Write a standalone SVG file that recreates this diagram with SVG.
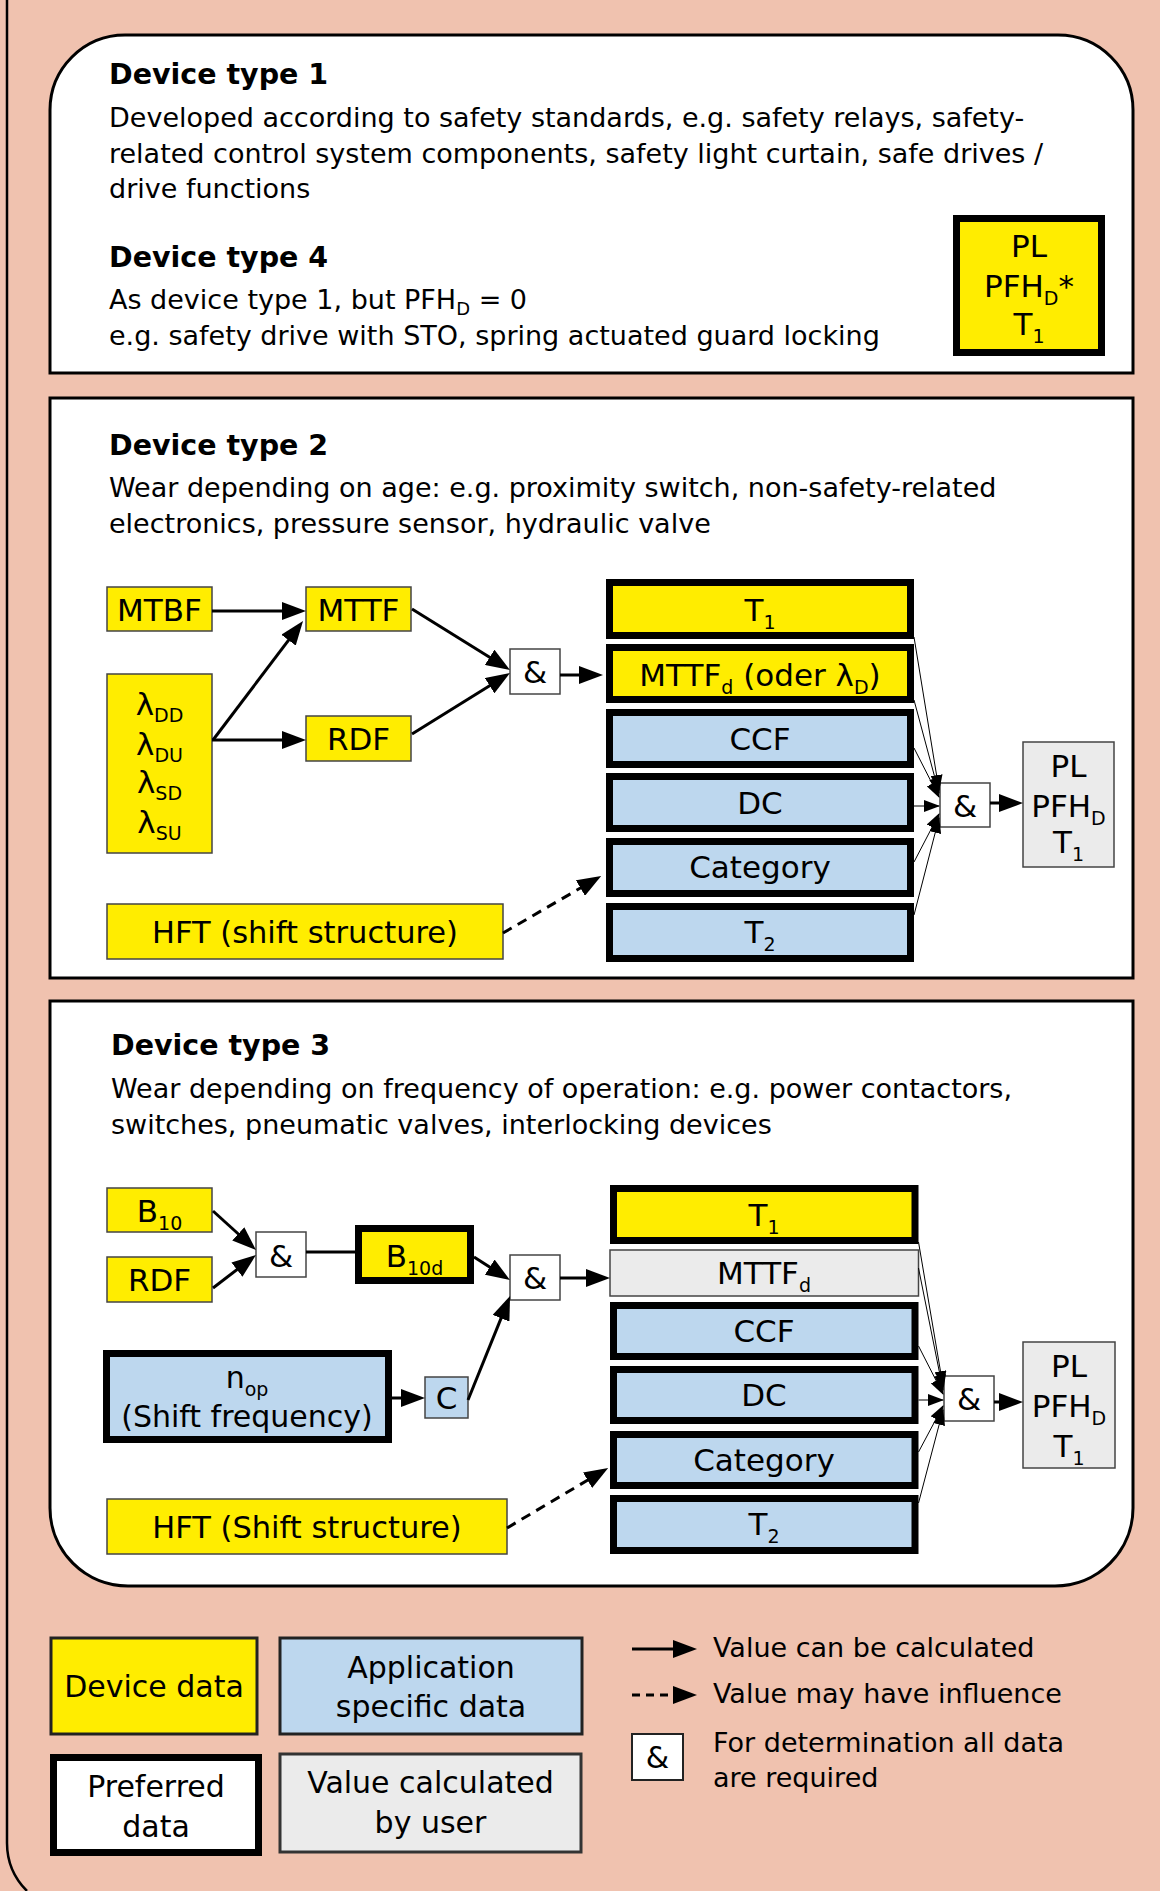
<svg xmlns="http://www.w3.org/2000/svg" width="1160" height="1891" viewBox="0 0 1160 1891">
<style>
text{font-family:"DejaVu Sans",sans-serif;fill:#000}
.h{font-size:28.5px;font-weight:bold}
.b{font-size:27px}
.l{font-size:31px;text-anchor:middle}
.m{font-size:30px;text-anchor:middle}
.panel{fill:#fff;stroke:#000;stroke-width:3}
.y{fill:#FFED00;stroke:#444;stroke-width:1.5}
.yt{fill:#FFED00;stroke:#000;stroke-width:7}
.bt{fill:#BDD7EE;stroke:#000;stroke-width:7}
.bl{fill:#BDD7EE;stroke:#444;stroke-width:1.5}
.g{fill:#EBEBEB;stroke:#444;stroke-width:1.5}
.w{fill:#fff;stroke:#444;stroke-width:1.5}
.c{stroke:#000;stroke-width:3;fill:none}
.a{marker-end:url(#ah)}
.d{stroke-dasharray:10 7}
.t{stroke:#000;stroke-width:1;fill:none;marker-end:url(#ahs)}
</style>
<defs>
<marker id="ah" markerUnits="userSpaceOnUse" markerWidth="24" markerHeight="18" viewBox="0 0 24 18" refX="18" refY="9" orient="auto"><path d="M0,0 L24,9 L0,18 z" fill="#000"/></marker>
<marker id="ahs" markerUnits="userSpaceOnUse" markerWidth="16" markerHeight="12" viewBox="0 0 16 12" refX="15" refY="6" orient="auto"><path d="M0,0 L16,6 L0,12 z" fill="#000"/></marker>
</defs>
<rect x="0" y="0" width="1160" height="1891" fill="#F0C2AF"/>
<path d="M7,0 V1843 A68,68 0 0 0 27,1891" fill="none" stroke="#000" stroke-width="2.5"/>

<g id="panel1">
<path class="panel" d="M50,373 V110 A75,75 0 0 1 125,35 H1058 A75,75 0 0 1 1133,110 V373 Z"/>
<text class="h" x="109" y="84">Device type 1</text>
<text class="b" x="109" y="127">Developed according to safety standards, e.g. safety relays, safety-</text>
<text class="b" x="109" y="163">related control system components, safety light curtain, safe drives /</text>
<text class="b" x="109" y="198">drive functions</text>
<text class="h" x="109" y="267">Device type 4</text>
<text class="b" x="109" y="309">As device type 1, but PFH<tspan dy="6" font-size="18">D</tspan><tspan dy="-6"> = 0</tspan></text>
<text class="b" x="109" y="345">e.g. safety drive with STO, spring actuated guard locking</text>
</g>
<g id="pl1">
<rect class="yt" x="956.5" y="218.5" width="145" height="134"/>
<text class="l" x="1029" y="257">PL</text>
<text class="l" x="1029" y="297">PFH<tspan dy="8" font-size="19">D</tspan><tspan dy="-8">*</tspan></text>
<text class="l" x="1029" y="335">T<tspan dy="8" font-size="19">1</tspan></text>
</g>

<g id="panel2">
<rect class="panel" x="50" y="398" width="1083" height="580"/>
<text class="h" x="109" y="455">Device type 2</text>
<text class="b" x="109" y="497">Wear depending on age: e.g. proximity switch, non-safety-related</text>
<text class="b" x="109" y="533">electronics, pressure sensor, hydraulic valve</text>
</g>
<g id="mtbf"><rect class="y" x="107" y="587" width="105" height="44"/><text class="l" x="159.5" y="621">MTBF</text></g>
<g id="mttf"><rect class="y" x="306" y="587" width="105" height="44"/><text class="l" x="358.5" y="621">MTTF</text></g>
<g id="lambda"><rect class="y" x="107" y="674" width="105" height="179"/>
<text class="l" x="159.5" y="715">λ<tspan dy="7" font-size="19">DD</tspan></text>
<text class="l" x="159.5" y="755">λ<tspan dy="7" font-size="19">DU</tspan></text>
<text class="l" x="159.5" y="793">λ<tspan dy="7" font-size="19">SD</tspan></text>
<text class="l" x="159.5" y="833">λ<tspan dy="7" font-size="19">SU</tspan></text></g>
<g id="rdf2"><rect class="y" x="306" y="716" width="105" height="45"/><text class="l" x="358.5" y="750">RDF</text></g>
<g id="and2a"><rect class="w" x="510" y="649" width="50" height="45"/><text class="l" x="535" y="683">&amp;</text></g>
<g id="hft2"><rect class="y" x="107" y="904" width="396" height="55"/><text class="m" x="305" y="943" style="font-size:30.5px">HFT (shift structure)</text></g>
<g id="t1b2"><rect class="yt" x="609.5" y="582.5" width="301" height="53"/><text class="l" x="760" y="621">T<tspan dy="8" font-size="19">1</tspan></text></g>
<g id="mttfd2"><rect class="yt" x="609.5" y="647.5" width="301" height="52"/><text class="l" x="760" y="686">MTTF<tspan dy="8" font-size="19">d</tspan><tspan dy="-8"> (oder λ</tspan><tspan dy="8" font-size="19">D</tspan><tspan dy="-8">)</tspan></text></g>
<g id="ccf2"><rect class="bt" x="609.5" y="712.5" width="301" height="52"/><text class="l" x="760" y="750">CCF</text></g>
<g id="dc2"><rect class="bt" x="609.5" y="776.5" width="301" height="52"/><text class="l" x="760" y="814">DC</text></g>
<g id="cat2"><rect class="bt" x="609.5" y="841.5" width="301" height="52"/><text class="l" x="760" y="878">Category</text></g>
<g id="t2b2"><rect class="bt" x="609.5" y="906.5" width="301" height="52"/><text class="l" x="760" y="943">T<tspan dy="8" font-size="19">2</tspan></text></g>
<g id="and2b"><rect class="w" x="940" y="783" width="50" height="44"/><text class="l" x="965" y="817">&amp;</text></g>
<g id="pl2"><rect class="g" x="1023" y="742" width="91" height="125"/>
<text class="l" x="1068.5" y="777">PL</text>
<text class="l" x="1068.5" y="817">PFH<tspan dy="8" font-size="19">D</tspan></text>
<text class="l" x="1068.5" y="853">T<tspan dy="8" font-size="19">1</tspan></text></g>

<g id="panel3">
<path class="panel" d="M50,1001 H1133 V1508 A78,78 0 0 1 1055,1586 H128 A78,78 0 0 1 50,1508 Z"/>
<text class="h" x="111" y="1055">Device type 3</text>
<text class="b" x="111" y="1098">Wear depending on frequency of operation: e.g. power contactors,</text>
<text class="b" x="111" y="1134">switches, pneumatic valves, interlocking devices</text>
</g>
<g id="b10"><rect class="y" x="107" y="1188" width="105" height="44"/><text class="l" x="159.5" y="1222">B<tspan dy="8" font-size="19">10</tspan></text></g>
<g id="rdf3"><rect class="y" x="107" y="1257" width="105" height="45"/><text class="l" x="159.5" y="1291">RDF</text></g>
<g id="and3a"><rect class="w" x="256" y="1232" width="50" height="45"/><text class="l" x="281" y="1267">&amp;</text></g>
<g id="b10d"><rect class="yt" x="358.5" y="1228.5" width="112" height="52"/><text class="l" x="414.5" y="1267">B<tspan dy="8" font-size="19">10d</tspan></text></g>
<g id="and3b"><rect class="w" x="510" y="1255" width="50" height="45"/><text class="l" x="535" y="1289">&amp;</text></g>
<g id="nop"><rect class="bt" x="106.5" y="1353.5" width="282" height="86"/>
<text class="m" x="247" y="1388">n<tspan dy="8" font-size="19">op</tspan></text>
<text class="m" x="247" y="1427">(Shift frequency)</text></g>
<g id="cbox"><rect class="bl" x="425" y="1377" width="43" height="41"/><text class="l" x="446.5" y="1409">C</text></g>
<g id="hft3"><rect class="y" x="107" y="1499" width="400" height="55"/><text class="m" x="307" y="1538" style="font-size:30.5px">HFT (Shift structure)</text></g>
<g id="t1b3"><rect class="yt" x="613.5" y="1188.5" width="301.5" height="52"/><text class="l" x="764" y="1226">T<tspan dy="8" font-size="19">1</tspan></text></g>
<g id="mttfd3"><rect class="g" x="610" y="1250" width="308.5" height="46"/><text class="l" x="764" y="1284">MTTF<tspan dy="8" font-size="19">d</tspan></text></g>
<g id="ccf3"><rect class="bt" x="613.5" y="1305.5" width="301.5" height="51"/><text class="l" x="764" y="1342">CCF</text></g>
<g id="dc3"><rect class="bt" x="613.5" y="1369.5" width="301.5" height="51"/><text class="l" x="764" y="1406">DC</text></g>
<g id="cat3"><rect class="bt" x="613.5" y="1434.5" width="301.5" height="51"/><text class="l" x="764" y="1471">Category</text></g>
<g id="t2b3"><rect class="bt" x="613.5" y="1498.5" width="301.5" height="52"/><text class="l" x="764" y="1535">T<tspan dy="8" font-size="19">2</tspan></text></g>
<g id="and3c"><rect class="w" x="944" y="1376" width="50" height="45"/><text class="l" x="969" y="1410">&amp;</text></g>
<g id="pl3"><rect class="g" x="1023" y="1342" width="92" height="126"/>
<text class="l" x="1069" y="1377">PL</text>
<text class="l" x="1069" y="1417">PFH<tspan dy="8" font-size="19">D</tspan></text>
<text class="l" x="1069" y="1457">T<tspan dy="8" font-size="19">1</tspan></text></g>

<g id="connectors">
<line class="c a" x1="212" y1="611" x2="300" y2="611"/>
<line class="c a" x1="212" y1="740" x2="300" y2="740"/>
<line class="c a" x1="213" y1="740" x2="299.4" y2="625.8"/>
<line class="c a" x1="412" y1="609" x2="504.9" y2="666.8"/>
<line class="c a" x1="412" y1="734" x2="504.9" y2="676.2"/>
<line class="c a" x1="560" y1="675" x2="597" y2="675"/>
<line class="c a d" x1="503" y1="933" x2="596" y2="879"/>
<line class="t" x1="914" y1="637" x2="939" y2="790"/>
<line class="t" x1="914" y1="700" x2="939" y2="793"/>
<line class="t" x1="914" y1="748" x2="939" y2="797"/>
<line class="t" x1="914" y1="806" x2="939" y2="806"/>
<line class="t" x1="914" y1="862" x2="939" y2="814"/>
<line class="t" x1="914" y1="915" x2="939" y2="818"/>
<line class="c a" x1="990" y1="803" x2="1017" y2="803"/>

<line class="c a" x1="213" y1="1211" x2="251.6" y2="1246"/>
<line class="c a" x1="213" y1="1288" x2="251.2" y2="1258.7"/>
<line class="c" x1="306" y1="1252" x2="355" y2="1252"/>
<line class="c a" x1="474" y1="1257" x2="504.9" y2="1276.8"/>
<line class="c a" x1="392" y1="1398" x2="419" y2="1398"/>
<line class="c a" x1="468" y1="1400" x2="507.8" y2="1301.6"/>
<line class="c a" x1="560" y1="1278" x2="604" y2="1278"/>
<line class="c a d" x1="507" y1="1528" x2="603" y2="1471"/>
<line class="t" x1="918.5" y1="1242" x2="943" y2="1386"/>
<line class="t" x1="918.5" y1="1268" x2="943" y2="1390"/>
<line class="t" x1="918.5" y1="1346" x2="943" y2="1394"/>
<line class="t" x1="918.5" y1="1400" x2="943" y2="1400"/>
<line class="t" x1="918.5" y1="1452" x2="943" y2="1406"/>
<line class="t" x1="918.5" y1="1503" x2="943" y2="1410"/>
<line class="c a" x1="994" y1="1402" x2="1017" y2="1402"/>
</g>

<g id="legend">
<g id="lg-device"><rect x="51" y="1638" width="206" height="96" fill="#FFED00" stroke="#222" stroke-width="3"/><text class="m" x="154" y="1697">Device data</text></g>
<g id="lg-app"><rect x="280" y="1638" width="302" height="96" fill="#BDD7EE" stroke="#222" stroke-width="3"/><text class="m" x="431" y="1678">Application</text><text class="m" x="431" y="1717">specific data</text></g>
<g id="lg-pref"><rect x="53.5" y="1757.5" width="205" height="95" fill="#fff" stroke="#000" stroke-width="7"/><text class="m" x="156" y="1797">Preferred</text><text class="m" x="156" y="1837">data</text></g>
<g id="lg-calc"><rect x="280" y="1754" width="301" height="98" fill="#EBEBEB" stroke="#333" stroke-width="3"/><text class="m" x="430.5" y="1793">Value calculated</text><text class="m" x="430.5" y="1833">by user</text></g>
<line class="c a" x1="632" y1="1649" x2="691" y2="1649"/>
<text class="b" x="713" y="1657">Value can be calculated</text>
<line class="c a" x1="632" y1="1695" x2="691" y2="1695" style="stroke-dasharray:8 6"/>
<text class="b" x="713" y="1703">Value may have influence</text>
<g id="lg-and"><rect x="632" y="1734" width="51" height="46" fill="#fff" stroke="#222" stroke-width="2"/><text class="m" x="657.5" y="1768">&amp;</text></g>
<text class="b" x="713" y="1752">For determination all data</text>
<text class="b" x="713" y="1787">are required</text>
</g>
</svg>
